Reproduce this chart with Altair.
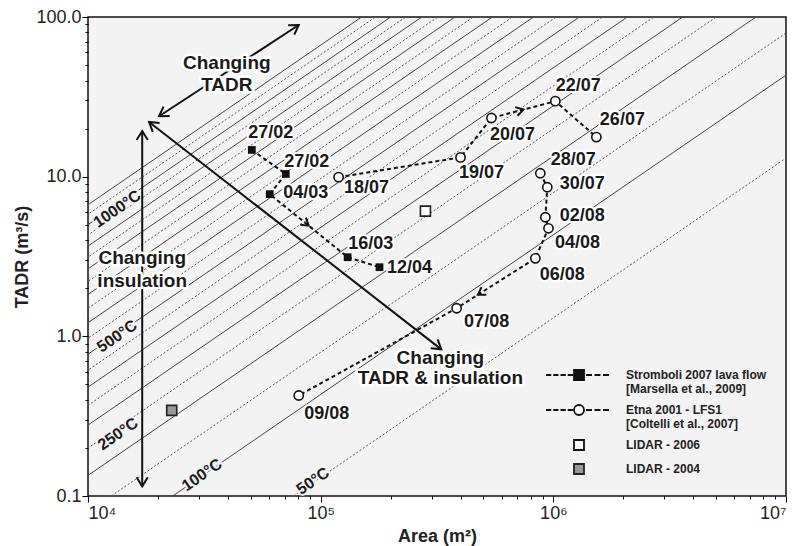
import math
import altair as alt
import pandas as pd

FONT = "Liberation Sans"

# ---------------- data ----------------
strom_dates = ["27/02", "27/02", "04/03", "16/03", "12/04"]
strom_area = [50600, 70800, 60400, 130600, 179000]
strom_tadr = [14.7, 10.4, 7.77, 3.13, 2.71]

etna_dates = ["18/07", "19/07", "20/07", "22/07", "26/07", "28/07",
              "30/07", "02/08", "04/08", "06/08", "07/08", "09/08"]
etna_area = [119400, 399000, 542000, 1020000, 1531000, 879000,
             942000, 924000, 953000, 837000, 384000, 80500]
etna_tadr = [9.93, 13.2, 23.3, 29.7, 17.7, 10.5,
             8.59, 5.57, 4.75, 3.08, 1.50, 0.426]
etna_segment = [1, 1, 1, 1, 1, 2, 2, 2, 2, 2, 2, 2]

lidar_names = ["LIDAR - 2006", "LIDAR - 2004"]
lidar_area = [282000, 22900]
lidar_tadr = [6.08, 0.344]

# isotherms: temperature (deg C) and the area at which each reaches TADR = 100 m3/s
iso_temp = [1100, 1050, 1000, 950, 900, 850, 800, 750, 700, 650, 600,
            550, 500, 450, 400, 350, 300, 250, 200, 150, 100, 50]
iso_area_at_100 = [150000, 172000, 200000, 232000, 272000, 319000, 378000,
                   453000, 547000, 667000, 822000, 1028000, 1294000, 1629000,
                   2080000, 2704000, 3597000, 5012000, 7430000, 12590000,
                   23120000, 76560000]

iso_label_text = ["1000°C", "500°C", "250°C", "100°C", "50°C"]
iso_label_area = [13340, 13340, 13460, 30900, 92700]
iso_label_tadr = [6.27, 1.0, 0.2445, 0.1355, 0.124]

# annotation double arrows (start / end)
arrow_a1 = [20200, 18300, 17100]
arrow_t1 = [23.9, 22.0, 19.3]
arrow_a2 = [80500, 330000, 17100]
arrow_t2 = [89.1, 0.829, 0.115]

note_text = ["Changing", "TADR", "Changing", "insulation", "Changing", "TADR & insulation"]
note_area = [39500, 39500, 17100, 17100, 327000, 327000]
note_tadr = [51.5, 37.5, 3.08, 2.21, 0.728, 0.546]

# direction arrows on the paths: (series, from index, to index, fraction)
path_arrows = [("strom", 2, 3, 0.5), ("etna", 2, 3, 0.5), ("etna", 9, 10, 0.73)]

legend_labels = ["Stromboli 2007 lava flow|[Marsella et al., 2009]",
                 "Etna 2001 - LFS1|[Coltelli et al., 2007]",
                 "LIDAR - 2006", "LIDAR - 2004"]

# ---------------- layout (label offsets in pixels) ----------------
strom_label_dx = [19, 21, 36, 23, 30]
strom_label_dy = [-17, -12, -1, -13, 1]
etna_label_dx = [28, 21, 21, 23, 26, 33, 35, 37, 29, 27, 30, 28]
etna_label_dy = [11, 16, 17, -15, -17, -13, -3, -1, 15, 17, 14, 18]

W, H = 698, 479
XMIN, XMAX, YMIN, YMAX = 1e4, 1e7, 0.1, 100.0
XDEC = math.log10(XMAX) - math.log10(XMIN)
YDEC = math.log10(YMAX) - math.log10(YMIN)


def px(a):
    return (math.log10(a) - math.log10(XMIN)) / XDEC * W


def py(t):
    return (math.log10(YMAX) - math.log10(t)) / YDEC * H


def shift(a, t, dx, dy):
    return 10 ** (math.log10(a) + dx / W * XDEC), 10 ** (math.log10(t) - dy / H * YDEC)


def heading(a1, t1, a2, t2):
    return math.degrees(math.atan2(py(t2) - py(t1), px(a2) - px(a1))) % 360


# ---------------- frames ----------------
strom_df = pd.DataFrame({"Area": strom_area, "TADR": strom_tadr, "idx": range(len(strom_area))})
etna_df = pd.DataFrame({"Area": etna_area, "TADR": etna_tadr, "idx": range(len(etna_area)),
                        "seg": etna_segment})


def label_frame(areas, tadrs, labels, dxs, dys):
    rows = []
    for a, t, l, dx, dy in zip(areas, tadrs, labels, dxs, dys):
        la, lt = shift(a, t, dx, dy)
        rows.append({"Area": la, "TADR": lt, "label": l})
    return pd.DataFrame(rows)


strom_lab = label_frame(strom_area, strom_tadr, strom_dates, strom_label_dx, strom_label_dy)
etna_lab = label_frame(etna_area, etna_tadr, etna_dates, etna_label_dx, etna_label_dy)
lidar06_df = pd.DataFrame({"Area": lidar_area[:1], "TADR": lidar_tadr[:1]})
lidar04_df = pd.DataFrame({"Area": lidar_area[1:], "TADR": lidar_tadr[1:]})

iso_rows = []
for T, a100 in zip(iso_temp, iso_area_at_100):
    style = "solid" if T % 100 == 0 else "dotted"
    iso_rows.append({"temp": T, "Area": a100, "TADR": YMAX, "style": style})
    iso_rows.append({"temp": T, "Area": a100 * YMIN / YMAX, "TADR": YMIN, "style": style})
iso_df = pd.DataFrame(iso_rows)

iso_angle = 360 - math.degrees(math.atan((H / YDEC) / (W / XDEC)))
iso_lab_df = pd.DataFrame({"Area": iso_label_area, "TADR": iso_label_tadr, "label": iso_label_text})

arrow_df = pd.DataFrame({"Area": arrow_a1, "TADR": arrow_t1, "Area2": arrow_a2, "TADR2": arrow_t2})
head_rows = []
for a1, t1, a2, t2 in zip(arrow_a1, arrow_t1, arrow_a2, arrow_t2):
    head_rows.append({"Area": a2, "TADR": t2, "angle": heading(a1, t1, a2, t2)})
    head_rows.append({"Area": a1, "TADR": t1, "angle": heading(a2, t2, a1, t1)})
head_df = pd.DataFrame(head_rows)

series_xy = {"strom": (strom_area, strom_tadr), "etna": (etna_area, etna_tadr)}
parrow_rows = []
for s, i, j, f in path_arrows:
    A, T = series_xy[s]
    la = math.log10(A[i]) + f * (math.log10(A[j]) - math.log10(A[i]))
    lt = math.log10(T[i]) + f * (math.log10(T[j]) - math.log10(T[i]))
    parrow_rows.append({"Area": 10 ** la, "TADR": 10 ** lt,
                        "angle": heading(A[i], T[i], A[j], T[j])})
parrow_df = pd.DataFrame(parrow_rows)

note_df = pd.DataFrame({"Area": note_area, "TADR": note_tadr, "label": note_text})

legend_df = pd.DataFrame({"Area": [strom_area[0], etna_area[0], lidar_area[0], lidar_area[1]],
                          "TADR": [strom_tadr[0], etna_tadr[0], lidar_tadr[0], lidar_tadr[1]],
                          "series": legend_labels})

# ---------------- scales / axes ----------------
x_ticks = [round(m * 10 ** e) for e in range(4, 7) for m in range(1, 10)] + [10 ** 7]
y_ticks = [round(m * 10 ** e, 6) for e in range(-1, 2) for m in range(1, 10)] + [100]

x_axis = alt.Axis(values=x_ticks, grid=False, domain=False, tickColor="black",
                  tickSize={"condition": {"test": "indexof([10000,100000,1000000,10000000], datum.value) >= 0", "value": 6}, "value": 3},
                  labelExpr="datum.value == 10000 ? '10⁴' : datum.value == 100000 ? '10⁵' : datum.value == 1000000 ? '10⁶' : datum.value == 10000000 ? '10⁷' : ''",
                  labelOverlap=False, labelFont=FONT, labelFontSize=18, labelColor="#222",
                  labelPadding=2, title="Area (m²)", titleFont=FONT, titleFontSize=18,
                  titleFontWeight="bold", titleColor="#222", titlePadding=5)
y_axis = alt.Axis(values=y_ticks, grid=False, domain=False, tickColor="black",
                  tickSize={"condition": {"test": "indexof([0.1,1,10,100], datum.value) >= 0", "value": 6}, "value": 3},
                  labelExpr="indexof([0.1,1,10,100], datum.value) >= 0 ? format(datum.value, '.1f') : ''",
                  labelOverlap=False, labelFont=FONT, labelFontSize=18, labelColor="#222",
                  labelPadding=1, title="TADR (m³/s)", titleFont=FONT, titleFontSize=18,
                  titleFontWeight="bold", titleColor="#222", titlePadding=4)

xs = alt.Scale(type="log", domain=[XMIN, XMAX], nice=False)
ys = alt.Scale(type="log", domain=[YMIN, YMAX], nice=False)
X = alt.X("Area:Q", scale=xs, axis=x_axis)
Y = alt.Y("TADR:Q", scale=ys, axis=y_axis)

# ---------------- layers ----------------
iso_solid = alt.Chart(iso_df).transform_filter("datum.style == 'solid'").mark_line(
    clip=True, color="#454545", strokeWidth=1).encode(x=X, y=Y, detail="temp:N")
iso_dot = alt.Chart(iso_df).transform_filter("datum.style == 'dotted'").mark_line(
    clip=True, color="#555555", strokeWidth=1, strokeDash=[2, 2]).encode(x=X, y=Y, detail="temp:N")

iso_halo = alt.Chart(iso_lab_df).mark_text(font=FONT, fontSize=16, fontWeight="bold", angle=iso_angle,
                                           stroke="#f3f3f3", strokeWidth=4, strokeJoin="round",
                                           color="#f3f3f3").encode(x=X, y=Y, text="label:N")
iso_text = alt.Chart(iso_lab_df).mark_text(font=FONT, fontSize=16, fontWeight="bold", angle=iso_angle,
                                           color="#1a1a1a").encode(x=X, y=Y, text="label:N")

arrows = alt.Chart(arrow_df).mark_rule(color="#111", strokeWidth=2).encode(
    x=X, y=Y, x2="Area2:Q", y2="TADR2:Q")
chevron = "M-1.2,-0.75L0,0L-1.2,0.75"
heads = alt.Chart(head_df).mark_point(shape=chevron, filled=False, size=225, color="#111",
                                      strokeWidth=2, opacity=1).encode(
    x=X, y=Y, angle=alt.Angle("angle:Q", scale=None))

note_halo = alt.Chart(note_df).mark_text(font=FONT, fontSize=19, fontWeight="bold", stroke="white",
                                         strokeWidth=5, strokeJoin="round", color="white").encode(
    x=X, y=Y, text="label:N")
note_txt = alt.Chart(note_df).mark_text(font=FONT, fontSize=19, fontWeight="bold", color="#1a1a1a").encode(
    x=X, y=Y, text="label:N")

strom_line = alt.Chart(strom_df).mark_line(color="#111", strokeWidth=2, strokeDash=[4, 3]).encode(
    x=X, y=Y, order="idx:Q")
etna_line = alt.Chart(etna_df).mark_line(color="#111", strokeWidth=2, strokeDash=[4, 3]).encode(
    x=X, y=Y, detail="seg:N", order="idx:Q")
path_heads = alt.Chart(parrow_df).mark_point(shape=chevron, filled=False, size=144, color="#111",
                                             strokeWidth=2, opacity=1).encode(
    x=X, y=Y, angle=alt.Angle("angle:Q", scale=None))

strom_pts = alt.Chart(strom_df).mark_point(shape="square", filled=True, size=60, color="#111",
                                           opacity=1).encode(x=X, y=Y)
etna_pts = alt.Chart(etna_df).mark_point(shape="circle", filled=True, size=85, fill="white",
                                         stroke="#111", strokeWidth=1.6, opacity=1).encode(x=X, y=Y)
lidar06_pts = alt.Chart(lidar06_df).mark_point(shape="square", filled=True, size=100, fill="white",
                                               stroke="#222", strokeWidth=1.6, opacity=1).encode(x=X, y=Y)
lidar04_pts = alt.Chart(lidar04_df).mark_point(shape="square", filled=True, size=100, fill="#9a9a9a",
                                               stroke="#222", strokeWidth=1.6, opacity=1).encode(x=X, y=Y)


def date_layers(df):
    common = dict(font=FONT, fontSize=18, fontWeight="bold")
    halo = alt.Chart(df).mark_text(stroke="white", strokeWidth=4, strokeJoin="round", color="white",
                                   **common).encode(x=X, y=Y, text="label:N")
    txt = alt.Chart(df).mark_text(color="#1a1a1a", **common).encode(x=X, y=Y, text="label:N")
    return [halo, txt]


# legend (drawn by the library's legend)
dashes_l = [(-6.6, -5.55), (-5.15, -4.1), (-3.7, -2.65), (-2.25, -1.2)]
dashes_r = [(1.4, 2.6), (3.1, 4.3), (4.8, 6.0)]
dash_str = "".join(f"M{a},0H{b}" for a, b in dashes_l + dashes_r)
strom_sym = dash_str + "M-1,-1H1V1H-1Z"
etna_sym = dash_str + "M1,0A1,1,0,1,1,-1,0A1,1,0,1,1,1,0Z"

leg = alt.Legend(title=None, orient="none", legendX=485, legendY=352, direction="vertical",
                 labelExpr="split(datum.label, '|')", labelFont=FONT, labelFontSize=12,
                 labelFontWeight="bold", labelColor="#222", labelLimit=400, labelOffset=41,
                 symbolSize=100, symbolStrokeWidth=1.8,
                 symbolOpacity=1, rowPadding=6, padding=0, symbolOffset=0)
legend_layer = alt.Chart(legend_df).mark_point(filled=True, opacity=0, size=1).encode(
    x=X, y=Y,
    shape=alt.Shape("series:N", scale=alt.Scale(domain=legend_labels,
                                                range=[strom_sym, etna_sym, "square", "square"]),
                    legend=leg),
    fill=alt.Fill("series:N", scale=alt.Scale(domain=legend_labels,
                                              range=["#111", "white", "white", "#9a9a9a"]),
                  legend=leg),
    stroke=alt.Stroke("series:N", scale=alt.Scale(domain=legend_labels,
                                                  range=["#111", "#111", "#111", "#222"]),
                      legend=leg))

layers = [iso_solid, iso_dot, iso_halo, iso_text, arrows, heads, note_halo, note_txt,
          strom_line, etna_line, path_heads, strom_pts, etna_pts, lidar06_pts, lidar04_pts]
layers += date_layers(strom_lab) + date_layers(etna_lab)
layers.append(legend_layer)

chart = alt.layer(*layers).properties(
    width=W, height=H,
    padding={"left": 80, "top": 9, "right": 5, "bottom": 50},
    autosize=alt.AutoSizeParams(type="none"),
    background="white",
).configure_view(fill="#f3f3f3", stroke="#111", strokeWidth=1.5)

chart.save("out.html", embed_options={"renderer": "svg", "actions": False})
